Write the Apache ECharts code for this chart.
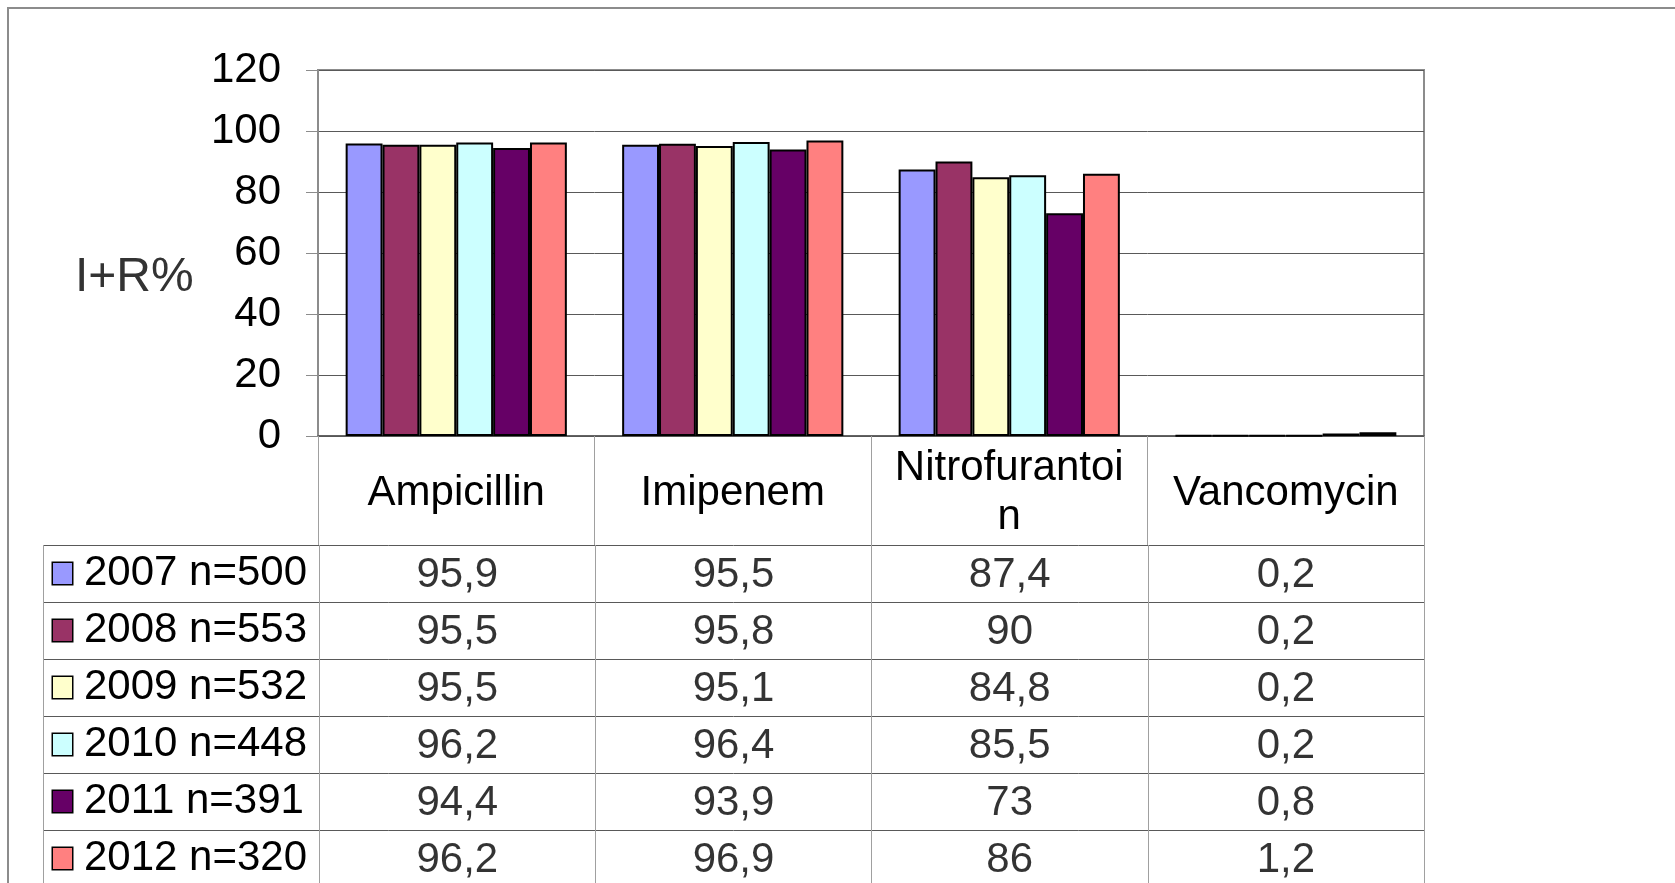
<!DOCTYPE html>
<html>
<head>
<meta charset="utf-8">
<script src="https://cdn.jsdelivr.net/npm/echarts@6/dist/echarts.min.js"></script>
<style>
  html, body { margin: 0; padding: 0; background: #fff; }
  #chart { width: 1675px; height: 883px; }
</style>
</head>
<body>
<div id="chart"></div>
<script>
// categories (antibiotics) and years
const categories = ['Ampicillin', 'Imipenem', 'Nitrofurantoin', 'Vancomycin']
const years = ['2007 n=500', '2008 n=553', '2009 n=532', '2010 n=448', '2011 n=391', '2012 n=320']

// I+R % per year, one value per antibiotic
const v2007 = [95.9, 95.5, 87.4, 0.2]
const v2008 = [95.5, 95.8, 90, 0.2]
const v2009 = [95.5, 95.1, 84.8, 0.2]
const v2010 = [96.2, 96.4, 85.5, 0.2]
const v2011 = [94.4, 93.9, 73, 0.8]
const v2012 = [96.2, 96.9, 86, 1.2]
const values = [v2007, v2008, v2009, v2010, v2011, v2012]

const yTicks = { min: 0, max: 120, interval: 20 }

const colors = ['#9999ff', '#993366', '#ffffcc', '#ccffff', '#660066', '#ff8080']
const FONT = "'Liberation Sans', Arial, sans-serif"

const chart = echarts.init(document.getElementById('chart'))

// bar series
const barSeries = years.map((name, i) => ({
  name: name,
  type: 'bar',
  xAxisIndex: 0,
  yAxisIndex: 0,
  barGap: 0,
  barCategoryGap: '20%',
  itemStyle: { color: colors[i], borderColor: '#000', borderWidth: 2 },
  data: values[i]
}))

// data table cells below the chart
const tableData = []
years.forEach((y, i) => {
  categories.forEach((c, j) => {
    tableData.push([c, y, values[i][j]])
  })
})

// legend markers inside the table's first column
const rich = { t: { fontSize: 42, fontFamily: FONT, color: '#000', padding: [0, 0, 0, 12] } }
colors.forEach((c, i) => {
  rich['m' + i] = { width: 19, height: 21, backgroundColor: c, borderColor: '#000', borderWidth: 1.5 }
})

const option = {
  backgroundColor: '#fff',
  animation: false,
  textStyle: { fontFamily: FONT },
  title: {
    text: 'I+R%',
    left: 75,
    top: 253,
    padding: 0,
    textStyle: { fontSize: 48, fontWeight: 'normal', color: '#333', fontFamily: FONT, lineHeight: 50 }
  },
  graphic: [{
    type: 'rect',
    shape: { x: 8, y: 8, width: 1720, height: 920 },
    style: { fill: 'none', stroke: '#8c8c8c', lineWidth: 2 },
    silent: true
  }],
  grid: [
    { left: 318, top: 70, width: 1106, height: 366, show: true, borderColor: '#8c8c8c', borderWidth: 2, outerBoundsMode: 'none' },
    { left: 43, top: 545, width: 1381, height: 342, outerBoundsMode: 'none' }
  ],
  xAxis: [
    {
      type: 'category',
      gridIndex: 0,
      data: categories,
      axisLine: { lineStyle: { color: '#555', width: 1.5 } },
      axisTick: { show: true, length: 109, alignWithLabel: false, lineStyle: { color: '#a0a0a0' } },
      axisLabel: {
        margin: 57,
        verticalAlign: 'middle',
        fontSize: 42,
        lineHeight: 49,
        color: '#000',
        width: 240,
        overflow: 'breakAll',
        interval: 0
      },
      splitLine: { show: false }
    },
    {
      type: 'category',
      gridIndex: 1,
      data: [''].concat(categories),
      axisLine: { show: false },
      axisTick: { show: false },
      axisLabel: { show: false },
      splitLine: { show: true, lineStyle: { color: '#a0a0a0' } }
    }
  ],
  yAxis: [
    {
      type: 'value',
      gridIndex: 0,
      min: yTicks.min,
      max: yTicks.max,
      interval: yTicks.interval,
      axisLine: { show: true, lineStyle: { color: '#8c8c8c' } },
      axisTick: { show: true, length: 12, lineStyle: { color: '#8c8c8c' } },
      axisLabel: { fontSize: 42, color: '#000', margin: 37 },
      splitLine: { lineStyle: { color: '#595959' } }
    },
    {
      type: 'category',
      gridIndex: 1,
      inverse: true,
      data: years,
      axisLine: { show: false },
      axisTick: { show: false },
      axisLabel: {
        inside: true,
        margin: 10,
        formatter: (v, i) => '{m' + i + '|}{t|' + v + '}',
        rich: rich
      },
      splitLine: { show: true, lineStyle: { color: '#595959' } }
    }
  ],
  series: barSeries.concat([{
    type: 'scatter',
    xAxisIndex: 1,
    yAxisIndex: 1,
    symbolSize: 0,
    silent: true,
    label: {
      show: true,
      position: 'inside',
      fontSize: 42,
      color: '#000',
      offset: [0, 2],
      formatter: p => String(p.value[2]).replace('.', ',')
    },
    data: tableData
  }])
}

chart.setOption(option)
</script>
</body>
</html>
